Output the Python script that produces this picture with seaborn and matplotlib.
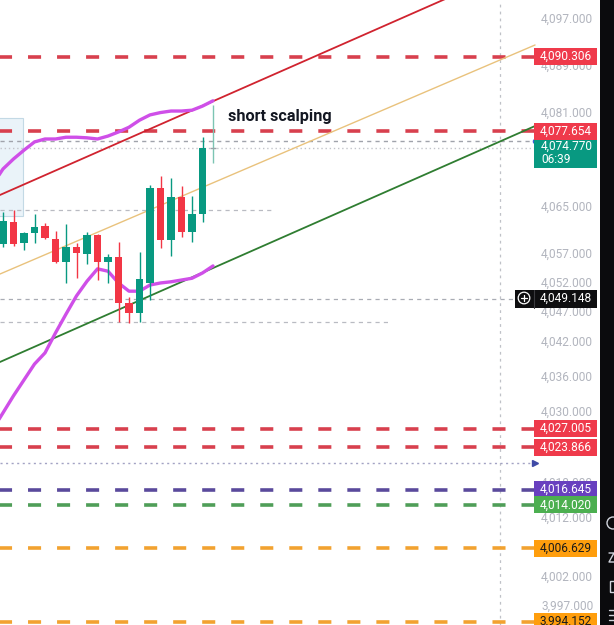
import numpy as np
import pandas as pd
import matplotlib
matplotlib.use("Agg")
import matplotlib.pyplot as plt
import matplotlib.transforms as mtrans
from matplotlib.patches import Rectangle, Circle
import seaborn as sns

# ---------------- data ----------------
bar_index = list(range(21))
opens  = [4058.43, 4062.18, 4058.60, 4060.30, 4061.49, 4059.28, 4055.37, 4057.92, 4056.73, 4059.96,
          4055.37, 4056.22, 4048.39, 4046.69, 4051.79, 4067.96, 4059.11, 4066.43, 4060.47, 4063.54, 4074.77]
highs  = [4063.88, 4064.22, 4060.50, 4063.54, 4062.01, 4060.64, 4061.84, 4058.60, 4060.47, 4060.10,
          4056.73, 4058.77, 4049.41, 4057.07, 4068.47, 4070.00, 4069.66, 4068.30, 4066.60, 4076.64, 4082.09]
lows   = [4057.92, 4058.10, 4057.41, 4058.60, 4059.30, 4055.20, 4051.79, 4052.64, 4055.03, 4052.30,
          4051.79, 4045.16, 4044.99, 4045.16, 4048.90, 4057.75, 4056.39, 4059.62, 4058.77, 4062.18, 4072.22]
closes = [4062.35, 4058.43, 4060.30, 4061.32, 4059.45, 4055.37, 4057.92, 4056.90, 4059.96, 4055.37,
          4056.22, 4048.39, 4046.69, 4052.47, 4067.96, 4059.11, 4066.43, 4060.47, 4063.54, 4074.77, 4074.77]

ma_index = list(range(-1, 21))
ma_upper = [4068.5, 4071.2, 4072.9, 4074.4, 4075.8, 4076.3, 4076.3, 4076.6, 4076.6, 4076.5, 4076.3,
            4076.8, 4077.5, 4078.3, 4079.5, 4080.4, 4080.8, 4081.06, 4081.06, 4081.2, 4081.9, 4082.8]
ma_lower = [4026.8, 4029.7, 4032.6, 4035.3, 4038.0, 4039.9, 4043.3, 4046.5, 4049.6, 4052.1, 4054.2,
            4053.8, 4051.8, 4050.4, 4050.4, 4051.45, 4051.8, 4052.0, 4052.3, 4052.6, 4053.5, 4054.7]

trend_x      = [-0.29, 50.67]
trend_red    = [4066.77, 4106.85]
trend_tan    = [4053.32, 4092.30]
trend_green  = [4038.35, 4078.51]

level_values = [4090.306, 4077.654, 4027.005, 4023.866, 4016.645, 4014.020, 4006.629, 3994.152]
level_labels = ["4,090.306", "4,077.654", "4,027.005", "4,023.866", "4,016.645", "4,014.020", "4,006.629", "3,994.152"]
level_kinds  = ["red", "red", "red", "red", "purple", "green", "orange", "orange"]

tick_values = [4097, 4089, 4081, 4065, 4057, 4052, 4047, 4042, 4036, 4030, 4018, 4012, 4002, 3997]

current_price = 4074.770
current_label = "4,074.770"
countdown = "06:39"
crosshair_price = 4049.148
crosshair_label = "4,049.148"
prev_line_price = 4075.96
alert_price = 4021.16
grey_levels = [4064.22, 4045.16]
grey_level_ends = [25.9, 36.9]
zone_x = [-1.0, 1.9]
zone_y = [4063.2, 4079.87]
note_text = "short scalping"
note_pos = (21.43, 4080.2)

# ---------------- layout helpers ----------------
W, H = 614, 625
X0_PX, BAR_PX = 3.0, 10.5          # pixel of bar 0 and bar spacing
PX_PER_UNIT = 5.876                 # vertical pixels per price unit
Y_TOP = 4099.955

def px2x(px):
    return (px - X0_PX) / BAR_PX

def hpx(px):  # pixel height -> price units
    return px / PX_PER_UNIT

C_UP, C_DN = "#089981", "#f23645"
LVL_LINE = {"red": "#d8404e", "purple": "#5a4a9c", "green": "#4f9e58", "orange": "#f2a230"}
LVL_BOX = {"red": "#ef3a4b", "purple": "#6840bf", "green": "#4caf50", "orange": "#ff9e0d"}
LVL_TXT = {"red": "white", "purple": "white", "green": "white", "orange": "#1b1b1b"}
FS = 8.6

sns.set_theme(style="white")
plt.rcParams["font.family"] = ["Roboto", "DejaVu Sans"]
plt.rcParams["lines.scale_dashes"] = False

fig = plt.figure(figsize=(W / 100, H / 100), dpi=100)
ax = fig.add_axes([0, 0, 1, 1])
ax.set_xlim(px2x(0), px2x(W))
ax.set_ylim(Y_TOP - hpx(H), Y_TOP)
for s in ax.spines.values():
    s.set_visible(False)
ax.set_xticks([])
ax.grid(False)

blend = mtrans.blended_transform_factory(ax.transAxes, ax.transData)
chart_end = px2x(534)

# zone rectangle
ax.add_patch(Rectangle((zone_x[0], zone_y[0]), zone_x[1] - zone_x[0], zone_y[1] - zone_y[0],
                       facecolor="#eaf3f9", edgecolor="#c3d9e5", lw=0.8, zorder=0.5))

# grey helper lines
ax.plot([px2x(0), chart_end], [prev_line_price] * 2, color="#a0a3ab", lw=1.0, ls=(0, (3, 3)), zorder=1)
ax.plot([px2x(0), chart_end], [current_price] * 2, color="#c2c4ca", lw=1.0, ls=(0, (1, 2)), zorder=1)
for v, e in zip(grey_levels, grey_level_ends):
    ax.plot([px2x(0), e], [v, v], color="#b9bbc2", lw=0.9, ls=(0, (3, 3)), zorder=1)
ax.plot([px2x(0), px2x(515)], [crosshair_price] * 2, color="#a9acb4", lw=0.9, ls=(0, (3, 3)), zorder=1)
ax.plot([px2x(500)] * 2, [Y_TOP - hpx(H), Y_TOP], color="#bfc1c7", lw=0.9, ls=(0, (2, 3)), zorder=1)
ax.plot([px2x(0), chart_end], [alert_price] * 2, color="#a3a3c4", lw=1.0, ls=(0, (1.5, 2.5)), zorder=1)
ax.plot([px2x(535)], [alert_price], marker=">", ms=4.5, color="#3f4aa6", zorder=6)
ax.plot([px2x(535)], [prev_line_price], marker="o", ms=3, color="#3f5fd6", zorder=6)

# horizontal key levels
for v, k in zip(level_values, level_kinds):
    ax.plot([px2x(-9), chart_end], [v, v], color=LVL_LINE[k], lw=2.6,
            ls=(0, (9.4, 11.5)), solid_capstyle="butt", dash_capstyle="butt", zorder=2)

# trend channel lines
lines_df = pd.DataFrame({"x": trend_x * 3,
                         "y": trend_red + trend_tan + trend_green,
                         "line": ["red"] * 2 + ["tan"] * 2 + ["green"] * 2})
sns.lineplot(data=lines_df[lines_df.line == "red"], x="x", y="y", ax=ax, color="#d0232f", lw=1.3, zorder=3)
sns.lineplot(data=lines_df[lines_df.line == "tan"], x="x", y="y", ax=ax, color="#e9c27c", lw=1.0, zorder=3)
sns.lineplot(data=lines_df[lines_df.line == "green"], x="x", y="y", ax=ax, color="#2f7d31", lw=1.3, zorder=3)

# moving-average bands
ma_df = pd.DataFrame({"x": ma_index, "upper": ma_upper, "lower": ma_lower})
sns.lineplot(data=ma_df, x="x", y="upper", ax=ax, color="#cf4fe8", lw=2.4, zorder=3.5)
sns.lineplot(data=ma_df, x="x", y="lower", ax=ax, color="#cf4fe8", lw=2.4, zorder=3.5)

# candles
for i, o, h, l, c in zip(bar_index, opens, highs, lows, closes):
    if i == bar_index[-1]:
        ax.vlines(i, l, h, color="#7cc5b3", lw=1.0, zorder=4)
        ax.hlines(c, i - 0.3, i + 0.3, color="#9aa3a8", lw=1.0, zorder=4)
        continue
    col = C_UP if c >= o else C_DN
    ax.vlines(i, l, h, color=col, lw=1.0, zorder=4)
    ax.bar(i, abs(c - o), bottom=min(o, c), width=0.7, color=col, lw=0, zorder=4.5)

ax.set_xlim(px2x(0), px2x(W))
ax.set_ylim(Y_TOP - hpx(H), Y_TOP)
ax.set_xlabel("")
ax.set_ylabel("")

# note
ax.text(note_pos[0], note_pos[1], note_text, fontsize=11.7, fontweight="bold", color="#131722",
        ha="left", va="center", zorder=7)

# price scale ticks (inside, right)
ax.set_yticks(tick_values)
ax.set_yticklabels([f"{t:,.3f}" for t in tick_values])
ax.yaxis.tick_right()
ax.tick_params(axis="y", length=0, pad=-(W - 541.0) * 0.72, labelsize=FS, labelcolor="#b2b5be",
               labelright=True, labelleft=False)

# level labels on the price scale
BX0, BW = 534 / W, 63 / W
for v, lab, k in zip(level_values, level_labels, level_kinds):
    ax.add_patch(Rectangle((BX0, v - hpx(8.5)), BW, hpx(17), transform=blend,
                           facecolor=LVL_BOX[k], edgecolor="none", zorder=8))
    ax.text(566 / W, v, lab, transform=blend, ha="center", va="center",
            fontsize=FS, color=LVL_TXT[k], zorder=9)

# current price box with countdown
ax.add_patch(Rectangle((BX0, current_price - hpx(20)), BW, hpx(28), transform=blend,
                       facecolor="#089981", edgecolor="none", zorder=8))
ax.text(541.0 / W, current_price + hpx(1.3), current_label, transform=blend, ha="left", va="center",
        fontsize=FS, color="white", zorder=9)
ax.text(541.0 / W, current_price - hpx(11.7), countdown, transform=blend, ha="left", va="center",
        fontsize=FS, color="white", zorder=9)

# crosshair price box
ax.add_patch(Rectangle((515 / W, crosshair_price - hpx(9)), 82 / W, hpx(18), transform=blend,
                       facecolor="#0e0e10", edgecolor="none", zorder=8))
ax.plot([533.5 / W] * 2, [crosshair_price - hpx(9), crosshair_price + hpx(9)], transform=blend,
        color="#3a3a3e", lw=0.8, zorder=8.5)
ax.text(566 / W, crosshair_price, crosshair_label, transform=blend, ha="center", va="center",
        fontsize=FS, color="white", zorder=9)
ax.add_patch(Circle((524, H - 298), 5.8, transform=None, facecolor="none", edgecolor="white", lw=0.9, zorder=9))
ax.plot([524 - 3.2, 524 + 3.2], [H - 298] * 2, transform=None, color="white", lw=0.9, zorder=9)
ax.plot([524] * 2, [H - 298 - 3.2, H - 298 + 3.2], transform=None, color="white", lw=0.9, zorder=9)

# dark right toolbar strip
ax.add_patch(Rectangle((600 / W, 0), 14 / W, 1, transform=ax.transAxes, facecolor="#0b0b0d",
                       edgecolor="none", zorder=10))
ax.add_patch(Circle((613, H - 523), 6, transform=None, facecolor="none", edgecolor="#d1d4dc", lw=1.0, zorder=11))
ax.add_patch(Rectangle((610, H - 592), 6, 11, transform=None, facecolor="none", edgecolor="#d1d4dc", lw=1.0, zorder=11))
for yy in (610, 615, 620):
    ax.plot([609, 614], [H - yy] * 2, transform=None, color="#d1d4dc", lw=1.0, zorder=11)
ax.plot([609, 614, 609, 614], [H - 553, H - 553, H - 562, H - 562], transform=None,
        color="#d1d4dc", lw=1.0, zorder=11)

fig.savefig("out.png", dpi=100)
